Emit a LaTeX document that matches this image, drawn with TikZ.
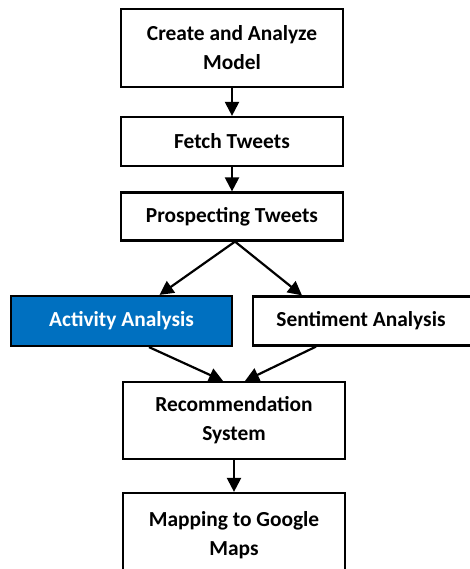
\documentclass[tikz,border=0pt]{standalone}
\usepackage{fontspec}
\setmainfont{Carlito}
\usetikzlibrary{arrows.meta}
\definecolor{boxblue}{HTML}{0070C0}
\begin{document}
\begin{tikzpicture}[x=1pt,y=-1pt,
  box/.style={draw=black,line width=2.2pt,fill=white,rectangle,minimum width=222pt,
    align=center,font=\bfseries\fontsize{21.4}{29}\selectfont,inner sep=0pt},
  arr/.style={line width=2.2pt,-{Triangle[length=14pt,width=14pt]}}]
\useasboundingbox (0,0) rectangle (470,569);
\node[box,minimum height=78pt] (create) at (232,48) {Create and Analyze\\Model};
\node[box,minimum height=49pt] (fetch) at (232,141.5) {Fetch Tweets};
\node[box,minimum height=48pt] (prosp) at (232,216.5) {Prospecting Tweets};
\node[box,minimum height=50pt,minimum width=221pt,fill=boxblue,text=white] (act) at (121.5,321) {Activity Analysis};
\node[box,minimum height=49pt,minimum width=222pt] (sent) at (364,321) {\hspace*{-6pt}Sentiment Analysis};
\node[box,minimum height=77pt] (rec) at (234,420.5) {Recommendation\\System};
\node[box,minimum height=80pt,text depth=0pt] (map) at (234,533) {Mapping to Google\\Maps};
\draw[arr] (create.south) -- (fetch.north);
\draw[arr] (fetch.south) -- (prosp.north);
\draw[arr] ([xshift=3pt]prosp.south) -- ([xshift=38pt]act.north);
\draw[arr] ([xshift=3pt]prosp.south) -- ([xshift=-62pt]sent.north);
\draw[arr] ([xshift=27.5pt]act.south) -- ([xshift=-11pt]rec.north);
\draw[arr] ([xshift=-48pt]sent.south) -- ([xshift=11pt]rec.north);
\draw[arr] (rec.south) -- (map.north);
\end{tikzpicture}
\end{document}
